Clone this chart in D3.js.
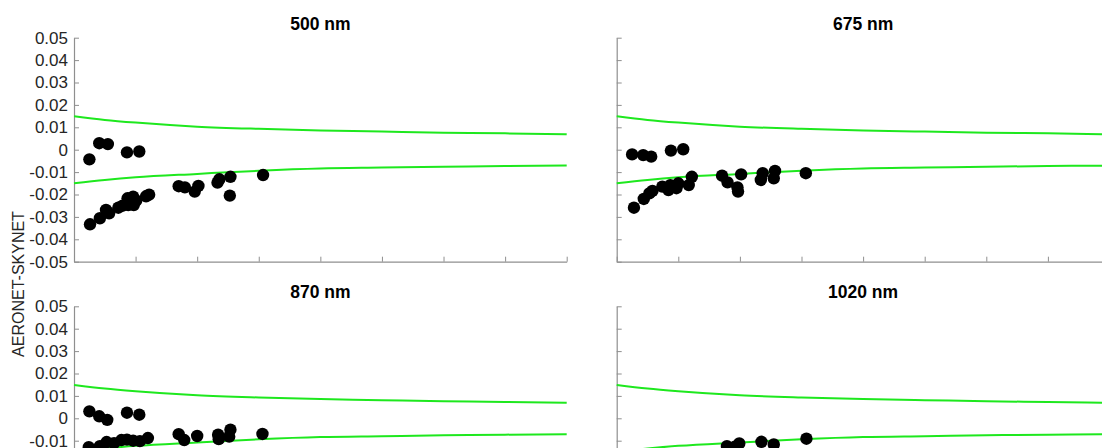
<!DOCTYPE html>
<html>
<head>
<meta charset="utf-8">
<script src="https://cdn.jsdelivr.net/npm/d3@7"></script>
<style>
  html, body { margin: 0; padding: 0; background: #fff; overflow: hidden; }
  svg { display: block; font-family: "Liberation Sans", Arial, Helvetica, sans-serif; }
</style>
</head>
<body>
<svg id="chart" width="1102" height="448"></svg>
<script>
// ---- data ----
const panelTitles = ["500 nm", "675 nm", "870 nm", "1020 nm"];
const xTicks = [0, 1, 2, 3, 4, 5, 6, 7, 8];
const yTicks = [0.05, 0.04, 0.03, 0.02, 0.01, 0, -0.01, -0.02, -0.03, -0.04, -0.05];
const yTickLabels = ["0.05", "0.04", "0.03", "0.02", "0.01", "0", "-0.01", "-0.02", "-0.03", "-0.04", "-0.05"];
const yLabel = "AERONET-SKYNET";

// uncertainty envelope (same in every panel)
const envX = [0, 0.5, 1, 2, 3, 4, 5, 6, 7, 8];
const envUpper = [0.0149, 0.0133, 0.0121, 0.0103, 0.0093, 0.0086, 0.0081, 0.0076, 0.0073, 0.0069];
const envLower = [-0.0150, -0.0135, -0.0123, -0.0108, -0.0094, -0.0084, -0.0080, -0.0076, -0.0073, -0.0071];

// 500 nm
const x500 = [0.25, 0.41, 0.55, 0.86, 1.06, 0.26, 0.42, 0.52, 0.57, 0.72, 0.79, 0.87, 0.88, 0.94, 0.96, 0.97, 1.01, 1.17, 1.22, 1.70, 1.80, 1.96, 2.02, 2.33, 2.36, 2.54, 2.53, 3.07];
const y500 = [-0.0043, 0.0029, 0.0025, -0.0012, -0.0008, -0.0333, -0.0306, -0.0269, -0.0284, -0.0259, -0.0250, -0.0217, -0.0247, -0.0217, -0.0210, -0.0247, -0.0227, -0.0208, -0.0201, -0.0163, -0.0168, -0.0187, -0.0162, -0.0147, -0.0132, -0.0121, -0.0205, -0.0113];
// 675 nm
const x675 = [0.25, 0.43, 0.56, 0.88, 1.08, 0.28, 0.44, 0.53, 0.58, 0.74, 0.84, 0.87, 0.97, 1.00, 1.17, 1.22, 1.71, 1.80, 1.96, 1.97, 2.02, 2.34, 2.37, 2.55, 2.57, 3.07];
const y675 = [-0.0021, -0.0024, -0.0031, -0.0004, 0.0002, -0.0259, -0.0220, -0.0195, -0.0184, -0.0165, -0.0180, -0.0158, -0.0172, -0.0150, -0.0158, -0.0121, -0.0116, -0.0146, -0.0168, -0.0187, -0.0110, -0.0135, -0.0105, -0.0128, -0.0095, -0.0105];
// 870 nm
const x870 = [0.25, 0.41, 0.54, 0.86, 1.06, 0.24, 0.42, 0.53, 0.65, 0.77, 0.86, 0.96, 1.07, 1.20, 1.70, 1.79, 2.00, 2.34, 2.35, 2.54, 2.52, 3.06];
const y870 = [0.0031, 0.0009, -0.0007, 0.0025, 0.0016, -0.0129, -0.0124, -0.0106, -0.0111, -0.0097, -0.0095, -0.0100, -0.0102, -0.0088, -0.0071, -0.0097, -0.0079, -0.0073, -0.0093, -0.0051, -0.0082, -0.0070];
// 1020 nm
const x1020 = [1.79, 1.92, 1.99, 2.35, 2.55, 3.08];
const y1020 = [-0.0124, -0.0127, -0.0112, -0.0105, -0.0117, -0.0091];

const seriesX = [x500, x675, x870, x1020];
const seriesY = [y500, y675, y870, y1020];

// ---- layout ----
const W = 1102, H = 448;
const svg = d3.select("#chart");
const colsX = [[74, 566.7], [616.7, 1109.5]];
const rowsY = [[37.7, 261.7], [306.3, 530.3]];
const axisColor = "#8f8f8f";
const textColor = "#262626";

panelTitles.forEach((title, i) => {
  const col = i % 2, row = Math.floor(i / 2);
  const x = d3.scaleLinear().domain([xTicks[0], xTicks[xTicks.length - 1]]).range(colsX[col]);
  const y = d3.scaleLinear().domain([-0.05, 0.05]).range([rowsY[row][1], rowsY[row][0]]);
  const g = svg.append("g");

  // y axis
  const yAxis = d3.axisLeft(y).tickValues(yTicks).tickSizeInner(-5).tickSizeOuter(0).tickPadding(6)
    .tickFormat((d, k) => (col === 0 && y(d) < H - 4) ? yTickLabels[k] : "");
  const ya = g.append("g").attr("transform", `translate(${colsX[col][0]},0)`).call(yAxis);
  ya.selectAll(".tick text").filter(function() { return this.textContent === ""; }).remove();
  // x axis
  const xAxis = d3.axisBottom(x).tickValues(xTicks).tickSizeInner(-5).tickSizeOuter(0).tickFormat("");
  const xa = g.append("g").attr("transform", `translate(0,${rowsY[row][1]})`).call(xAxis);
  xa.selectAll(".tick text").remove();

  [ya, xa].forEach(a => {
    a.select(".domain").attr("stroke", axisColor).attr("stroke-width", 1.2);
    a.selectAll(".tick line").attr("stroke", axisColor).attr("stroke-width", 1);
    a.selectAll(".tick text").attr("fill", textColor).attr("font-size", 17)
      .attr("font-family", "'Liberation Sans', Arial, sans-serif");
  });

  // envelope
  const line = d3.line().x(d => x(d[0])).y(d => y(d[1])).curve(d3.curveMonotoneX);
  [envUpper, envLower].forEach(arr => {
    g.append("path")
      .datum(envX.map((v, k) => [v, arr[k]]))
      .attr("d", line)
      .attr("fill", "none")
      .attr("stroke", "#1ee81e")
      .attr("stroke-width", 2);
  });

  // points
  const pts = seriesX[i].map((v, k) => [v, seriesY[i][k]]);
  g.selectAll("circle.pt").data(pts).enter().append("circle")
    .attr("class", "pt")
    .attr("cx", d => x(d[0]))
    .attr("cy", d => y(d[1]))
    .attr("r", 6.2)
    .attr("fill", "#000");

  // title
  g.append("text")
    .attr("x", (colsX[col][0] + colsX[col][1]) / 2)
    .attr("y", rowsY[row][0] - 8)
    .attr("text-anchor", "middle")
    .attr("font-weight", "bold")
    .attr("font-size", 17.5)
    .attr("fill", "#000")
    .text(title);
});

// shared y label
svg.append("text")
  .attr("transform", `translate(24,${(rowsY[0][0] + rowsY[1][1]) / 2}) rotate(-90)`)
  .attr("text-anchor", "middle")
  .attr("font-size", 16)
  .attr("fill", textColor)
  .text(yLabel);
</script>
</body>
</html>
